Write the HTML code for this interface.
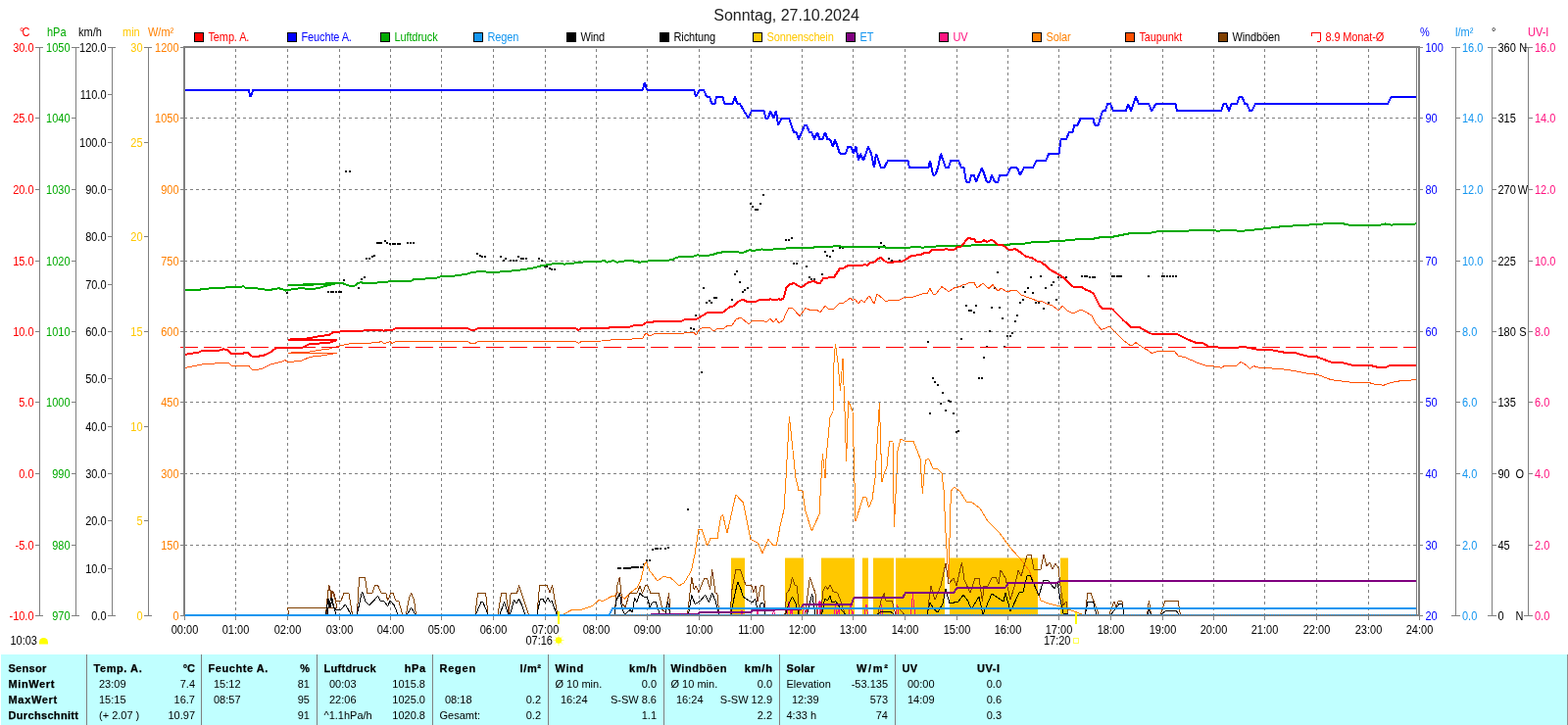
<!DOCTYPE html>
<html lang="de"><head><meta charset="utf-8"><title>Sonntag, 27.10.2024</title>
<style>html,body{margin:0;padding:0;background:#fff;overflow:hidden}svg{display:block;font-family:"Liberation Sans",sans-serif;font-size:11px}.b{font-weight:bold;stroke:#000;stroke-width:.25px}.t{font-size:16px}.g{letter-spacing:-.12px}.l{fill:none;stroke-linejoin:bevel;shape-rendering:crispEdges}</style></head><body>
<svg width="1600" height="740" viewBox="0 0 1600 740">
<rect width="1600" height="740" fill="#fff"/>
<g shape-rendering="crispEdges">
<line x1="188" x2="1445" y1="120.5" y2="120.5" stroke="#808080" stroke-dasharray="3 3"/>
<line x1="188" x2="1445" y1="193.5" y2="193.5" stroke="#808080" stroke-dasharray="3 3"/>
<line x1="188" x2="1445" y1="266.5" y2="266.5" stroke="#808080" stroke-dasharray="3 3"/>
<line x1="188" x2="1445" y1="338.5" y2="338.5" stroke="#808080" stroke-dasharray="3 3"/>
<line x1="188" x2="1445" y1="410.5" y2="410.5" stroke="#808080" stroke-dasharray="3 3"/>
<line x1="188" x2="1445" y1="483.5" y2="483.5" stroke="#808080" stroke-dasharray="3 3"/>
<line x1="188" x2="1445" y1="556.5" y2="556.5" stroke="#808080" stroke-dasharray="3 3"/>
<line x1="240.5" x2="240.5" y1="50" y2="627" stroke="#808080" stroke-dasharray="3 3"/>
<line x1="293.5" x2="293.5" y1="50" y2="627" stroke="#808080" stroke-dasharray="3 3"/>
<line x1="346.5" x2="346.5" y1="50" y2="627" stroke="#808080" stroke-dasharray="3 3"/>
<line x1="398.5" x2="398.5" y1="50" y2="627" stroke="#808080" stroke-dasharray="3 3"/>
<line x1="450.5" x2="450.5" y1="50" y2="627" stroke="#808080" stroke-dasharray="3 3"/>
<line x1="503.5" x2="503.5" y1="50" y2="627" stroke="#808080" stroke-dasharray="3 3"/>
<line x1="556.5" x2="556.5" y1="50" y2="627" stroke="#808080" stroke-dasharray="3 3"/>
<line x1="608.5" x2="608.5" y1="50" y2="627" stroke="#808080" stroke-dasharray="3 3"/>
<line x1="660.5" x2="660.5" y1="50" y2="627" stroke="#808080" stroke-dasharray="3 3"/>
<line x1="713.5" x2="713.5" y1="50" y2="627" stroke="#808080" stroke-dasharray="3 3"/>
<line x1="766.5" x2="766.5" y1="50" y2="627" stroke="#808080" stroke-dasharray="3 3"/>
<line x1="818.5" x2="818.5" y1="50" y2="627" stroke="#808080" stroke-dasharray="3 3"/>
<line x1="870.5" x2="870.5" y1="50" y2="627" stroke="#808080" stroke-dasharray="3 3"/>
<line x1="923.5" x2="923.5" y1="50" y2="627" stroke="#808080" stroke-dasharray="3 3"/>
<line x1="976.5" x2="976.5" y1="50" y2="627" stroke="#808080" stroke-dasharray="3 3"/>
<line x1="1028.5" x2="1028.5" y1="50" y2="627" stroke="#808080" stroke-dasharray="3 3"/>
<line x1="1080.5" x2="1080.5" y1="50" y2="627" stroke="#808080" stroke-dasharray="3 3"/>
<line x1="1133.5" x2="1133.5" y1="50" y2="627" stroke="#808080" stroke-dasharray="3 3"/>
<line x1="1186.5" x2="1186.5" y1="50" y2="627" stroke="#808080" stroke-dasharray="3 3"/>
<line x1="1238.5" x2="1238.5" y1="50" y2="627" stroke="#808080" stroke-dasharray="3 3"/>
<line x1="1290.5" x2="1290.5" y1="50" y2="627" stroke="#808080" stroke-dasharray="3 3"/>
<line x1="1343.5" x2="1343.5" y1="50" y2="627" stroke="#808080" stroke-dasharray="3 3"/>
<line x1="1396.5" x2="1396.5" y1="50" y2="627" stroke="#808080" stroke-dasharray="3 3"/>
</g>
<g fill="#ffc800">
<rect x="746" y="569.5" width="14" height="58.5"/>
<rect x="801" y="569.5" width="19" height="58.5"/>
<rect x="838" y="569.5" width="34" height="58.5"/>
<rect x="880" y="569.5" width="6" height="58.5"/>
<rect x="891" y="569.5" width="21" height="58.5"/>
<rect x="914" y="569.5" width="50" height="58.5"/>
<rect x="969" y="569.5" width="90" height="58.5"/>
<rect x="1082" y="569.5" width="8" height="58.5"/>
</g>
<g shape-rendering="crispEdges" fill="#000">
<rect x="292" y="298" width="2" height="2"/>
<rect x="334" y="297" width="2" height="2"/>
<rect x="337" y="297" width="2" height="2"/>
<rect x="339" y="297" width="2" height="2"/>
<rect x="342" y="297" width="2" height="2"/>
<rect x="345" y="297" width="2" height="2"/>
<rect x="347" y="297" width="2" height="2"/>
<rect x="350" y="285" width="2" height="2"/>
<rect x="365" y="293" width="2" height="2"/>
<rect x="368" y="284" width="2" height="2"/>
<rect x="371" y="282" width="2" height="2"/>
<rect x="373" y="263" width="2" height="2"/>
<rect x="376" y="263" width="2" height="2"/>
<rect x="379" y="261" width="2" height="2"/>
<rect x="381" y="260" width="2" height="2"/>
<rect x="384" y="247" width="2" height="2"/>
<rect x="386" y="247" width="2" height="2"/>
<rect x="388" y="247" width="2" height="2"/>
<rect x="392" y="245" width="2" height="2"/>
<rect x="394" y="247" width="2" height="2"/>
<rect x="397" y="248" width="2" height="2"/>
<rect x="400" y="248" width="2" height="2"/>
<rect x="402" y="248" width="2" height="2"/>
<rect x="405" y="248" width="2" height="2"/>
<rect x="407" y="248" width="2" height="2"/>
<rect x="415" y="247" width="2" height="2"/>
<rect x="418" y="247" width="2" height="2"/>
<rect x="421" y="247" width="2" height="2"/>
<rect x="486" y="258" width="2" height="2"/>
<rect x="489" y="260" width="2" height="2"/>
<rect x="491" y="261" width="2" height="2"/>
<rect x="494" y="261" width="2" height="2"/>
<rect x="352" y="174" width="2" height="2"/>
<rect x="356" y="174" width="2" height="2"/>
<rect x="510" y="261" width="2" height="2"/>
<rect x="513" y="265" width="2" height="2"/>
<rect x="515" y="263" width="2" height="2"/>
<rect x="520" y="265" width="2" height="2"/>
<rect x="523" y="265" width="2" height="2"/>
<rect x="526" y="265" width="2" height="2"/>
<rect x="528" y="261" width="2" height="2"/>
<rect x="531" y="263" width="2" height="2"/>
<rect x="533" y="263" width="2" height="2"/>
<rect x="536" y="263" width="2" height="2"/>
<rect x="549" y="263" width="2" height="2"/>
<rect x="552" y="265" width="2" height="2"/>
<rect x="555" y="271" width="2" height="2"/>
<rect x="557" y="271" width="2" height="2"/>
<rect x="560" y="273" width="2" height="2"/>
<rect x="562" y="274" width="2" height="2"/>
<rect x="565" y="274" width="2" height="2"/>
<rect x="630" y="579" width="2" height="2"/>
<rect x="632" y="579" width="2" height="2"/>
<rect x="636" y="579" width="2" height="2"/>
<rect x="638" y="579" width="2" height="2"/>
<rect x="640" y="579" width="2" height="2"/>
<rect x="642" y="579" width="2" height="2"/>
<rect x="644" y="578" width="2" height="2"/>
<rect x="646" y="578" width="2" height="2"/>
<rect x="648" y="578" width="2" height="2"/>
<rect x="650" y="578" width="2" height="2"/>
<rect x="653" y="578" width="2" height="2"/>
<rect x="655" y="578" width="2" height="2"/>
<rect x="656" y="575" width="2" height="2"/>
<rect x="659" y="571" width="2" height="2"/>
<rect x="662" y="571" width="2" height="2"/>
<rect x="665" y="560" width="2" height="2"/>
<rect x="668" y="559" width="2" height="2"/>
<rect x="670" y="559" width="2" height="2"/>
<rect x="673" y="559" width="2" height="2"/>
<rect x="678" y="559" width="2" height="2"/>
<rect x="681" y="558" width="2" height="2"/>
<rect x="701" y="519" width="2" height="2"/>
<rect x="715" y="379" width="2" height="2"/>
<rect x="704" y="334" width="2" height="2"/>
<rect x="707" y="335" width="2" height="2"/>
<rect x="709" y="321" width="2" height="2"/>
<rect x="717" y="293" width="2" height="2"/>
<rect x="720" y="308" width="2" height="2"/>
<rect x="723" y="306" width="2" height="2"/>
<rect x="725" y="308" width="2" height="2"/>
<rect x="728" y="303" width="2" height="2"/>
<rect x="730" y="303" width="2" height="2"/>
<rect x="746" y="305" width="2" height="2"/>
<rect x="749" y="279" width="2" height="2"/>
<rect x="751" y="276" width="2" height="2"/>
<rect x="754" y="287" width="2" height="2"/>
<rect x="757" y="297" width="2" height="2"/>
<rect x="759" y="295" width="2" height="2"/>
<rect x="762" y="293" width="2" height="2"/>
<rect x="765" y="207" width="2" height="2"/>
<rect x="767" y="210" width="2" height="2"/>
<rect x="770" y="213" width="2" height="2"/>
<rect x="772" y="213" width="2" height="2"/>
<rect x="775" y="207" width="2" height="2"/>
<rect x="778" y="198" width="2" height="2"/>
<rect x="801" y="244" width="2" height="2"/>
<rect x="804" y="244" width="2" height="2"/>
<rect x="807" y="242" width="2" height="2"/>
<rect x="809" y="268" width="2" height="2"/>
<rect x="812" y="268" width="2" height="2"/>
<rect x="822" y="271" width="2" height="2"/>
<rect x="825" y="282" width="2" height="2"/>
<rect x="827" y="284" width="2" height="2"/>
<rect x="830" y="284" width="2" height="2"/>
<rect x="838" y="279" width="2" height="2"/>
<rect x="841" y="256" width="2" height="2"/>
<rect x="843" y="260" width="2" height="2"/>
<rect x="846" y="261" width="2" height="2"/>
<rect x="849" y="255" width="2" height="2"/>
<rect x="854" y="250" width="2" height="2"/>
<rect x="856" y="252" width="2" height="2"/>
<rect x="859" y="252" width="2" height="2"/>
<rect x="896" y="252" width="2" height="2"/>
<rect x="898" y="247" width="2" height="2"/>
<rect x="901" y="250" width="2" height="2"/>
<rect x="906" y="263" width="2" height="2"/>
<rect x="909" y="265" width="2" height="2"/>
<rect x="917" y="265" width="2" height="2"/>
<rect x="946" y="348" width="2" height="2"/>
<rect x="980" y="345" width="2" height="2"/>
<rect x="982" y="292" width="2" height="2"/>
<rect x="985" y="311" width="2" height="2"/>
<rect x="988" y="316" width="2" height="2"/>
<rect x="990" y="316" width="2" height="2"/>
<rect x="993" y="318" width="2" height="2"/>
<rect x="995" y="311" width="2" height="2"/>
<rect x="1003" y="364" width="2" height="2"/>
<rect x="1006" y="353" width="2" height="2"/>
<rect x="1009" y="337" width="2" height="2"/>
<rect x="1011" y="313" width="2" height="2"/>
<rect x="1014" y="293" width="2" height="2"/>
<rect x="1017" y="277" width="2" height="2"/>
<rect x="1019" y="313" width="2" height="2"/>
<rect x="1022" y="324" width="2" height="2"/>
<rect x="1024" y="353" width="2" height="2"/>
<rect x="1027" y="342" width="2" height="2"/>
<rect x="1030" y="342" width="2" height="2"/>
<rect x="1032" y="339" width="2" height="2"/>
<rect x="1035" y="327" width="2" height="2"/>
<rect x="1037" y="321" width="2" height="2"/>
<rect x="1040" y="308" width="2" height="2"/>
<rect x="1043" y="305" width="2" height="2"/>
<rect x="1045" y="297" width="2" height="2"/>
<rect x="1048" y="293" width="2" height="2"/>
<rect x="1051" y="282" width="2" height="2"/>
<rect x="1053" y="298" width="2" height="2"/>
<rect x="1056" y="308" width="2" height="2"/>
<rect x="1059" y="308" width="2" height="2"/>
<rect x="1061" y="281" width="2" height="2"/>
<rect x="1064" y="314" width="2" height="2"/>
<rect x="1066" y="293" width="2" height="2"/>
<rect x="1069" y="308" width="2" height="2"/>
<rect x="1072" y="290" width="2" height="2"/>
<rect x="1074" y="287" width="2" height="2"/>
<rect x="1077" y="305" width="2" height="2"/>
<rect x="1079" y="282" width="2" height="2"/>
<rect x="1082" y="282" width="2" height="2"/>
<rect x="1087" y="282" width="2" height="2"/>
<rect x="1103" y="281" width="2" height="2"/>
<rect x="1106" y="281" width="2" height="2"/>
<rect x="1108" y="281" width="2" height="2"/>
<rect x="1111" y="282" width="2" height="2"/>
<rect x="1114" y="282" width="2" height="2"/>
<rect x="1116" y="282" width="2" height="2"/>
<rect x="951" y="385" width="2" height="2"/>
<rect x="953" y="389" width="2" height="2"/>
<rect x="956" y="392" width="2" height="2"/>
<rect x="961" y="400" width="2" height="2"/>
<rect x="959" y="411" width="2" height="2"/>
<rect x="967" y="408" width="2" height="2"/>
<rect x="969" y="409" width="2" height="2"/>
<rect x="948" y="421" width="2" height="2"/>
<rect x="964" y="418" width="2" height="2"/>
<rect x="972" y="421" width="2" height="2"/>
<rect x="975" y="440" width="2" height="2"/>
<rect x="977" y="439" width="2" height="2"/>
<rect x="998" y="385" width="2" height="2"/>
<rect x="1001" y="385" width="2" height="2"/>
<rect x="1134" y="281" width="2" height="2"/>
<rect x="1136" y="281" width="2" height="2"/>
<rect x="1139" y="281" width="2" height="2"/>
<rect x="1141" y="281" width="2" height="2"/>
<rect x="1143" y="281" width="2" height="2"/>
<rect x="1171" y="281" width="2" height="2"/>
<rect x="1185" y="281" width="2" height="2"/>
<rect x="1187" y="281" width="2" height="2"/>
<rect x="1190" y="281" width="2" height="2"/>
<rect x="1193" y="281" width="2" height="2"/>
<rect x="1196" y="281" width="2" height="2"/>
<rect x="1199" y="281" width="2" height="2"/>
</g>
<polyline class="l" stroke="#ff8000" stroke-width="1" points="575,627 582.5,623 593.8,622 603.8,618.8 611.2,612.5 615,613.5 623.8,608.8 627.5,608.8 629.4,603.8 637.5,611.2 645,603.5 650,600 653.8,592.5 657.5,576.2 659.4,573.5 663,582.7 671,593 677,588.4 684.6,590 693,597.8 698,595 705.4,582.7 709,565.7 713,540 716,540 721.5,557 725,549.6 732,549.6 735.6,527.8 737.5,525 742,544 750.8,505 758.3,512.7 766,550.5 773.5,554.3 778,564.7 784,550.5 788.6,556.2 792.4,556.2 796,537.3 800,520.3 802,488 805.4,425 812,488 815,500.4 819,501.3 821.7,521 828.3,542 836,525 838,488 839.4,463 842,488 843,468 847,426 850,420 851,370 852.4,351 855,370 857.4,399 860,366 862,420 863.6,471 865.6,409 870,420 871.6,476 873,532 881,507 884,508 886.6,518 890,510 893,488 897.4,411 899.4,476 900,492 902,484 905,476 907.6,450 911,451 912.4,538 915,484 916,460 919,448 923,450 932,450 939,468 941.4,504 943,484 944.4,470 947.6,468 952,478 957,479 961,483 963,500 965,544 968,592 969.6,524 970.6,501 973.6,497 980,502 986,512 991,512 1000,519 1008,532 1020,544 1030,558 1040,569 1050,582 1058,602 1062,613 1070,616 1082,619 1090,622 1104,627"/>
<polyline class="l" stroke="#ff5000" stroke-width="1" points="188,375.6 206,372 224,370.6 233,370 237,374 248,373 254,373.6 257,377 262,377.4 268,376 276,372 288,369 291,367.6 293,369 300,369 308,368 316,364.4 328,363 344,360.4 293.6,360.4 300,359.6 316,359 328,357 336,356 344,353.6 358,350.6 368,350.6 386,349.6 389,348.4 392,350.6 396,349.6 398,348.6 400,350.6 404,348.4 477,348.4 480,350.4 485,350.4 488,348.4 587,348.4 590.4,350.4 593.6,348.4 614,348 618,347 620,348 623,347 643,346.6 647,345.6 655.6,345.6 659,340 663,343 667,341 696,340.6 699,339.6 708,339.6 710.4,342 714,336 718,334 720,335 724,334 728,338 733,335 739,335 743,332 747,332 751,326 756,324 764,331 767,328 778,327 782,329 786,325 789,329 792,325.6 795,330 799,327 802,320 805,314 809,315 816,322.6 822,314.6 828,317 834,316.6 837,319 842,312 845,315 850,316 856,310 860,309.6 868,304 870,307 872,305 876,310 879,306 882,308.6 887,302 892,310 895,300 904,307.6 908,306.6 918,306 924,303 930,303.6 942,299.6 946,300 949,294.6 952,300 955,300 961,292.6 968,297.6 974,293.6 980,292.6 983,290 986,290 990,288 994,288.6 997,294 1003,289 1009,294.6 1013,290.6 1015,294 1019,297 1021,294 1028,298 1033,296 1037,296 1042,301 1050,304 1053,305 1058,307 1062,307 1068,310 1074,312 1080.4,317 1084,312 1089,317 1095,320 1103,316 1108,318.6 1114,322 1118,330 1124,336.5 1128,334.9 1132,333 1136,337 1147,347.8 1154,353.2 1159,349.7 1166,354.6 1171,357.3 1175.4,360.8 1181,358.6 1198.4,358.6 1202.4,363.2 1209,364.6 1220,369.5 1231,373.5 1243,374.3 1246.5,375.7 1249.7,373 1262,373 1266,369.5 1270,371.4 1275.4,376.2 1279.5,373.5 1282,374.9 1309,376.8 1322.7,378.9 1336,381.6 1344,382.2 1358,387.6 1379.5,390.3 1395.7,390.3 1404,392.4 1412,393.2 1420,390.3 1431,388.4 1445,387.8"/>
<polyline class="l" stroke="#ff1480" stroke-width="1" points="756,627 757,623 758,627"/>
<polyline class="l" stroke="#ff1480" stroke-width="1" points="772,627 773,624 774,627"/>
<polyline class="l" stroke="#ff1480" stroke-width="1" points="788.5,627 789.5,623.5 791,627"/>
<polyline class="l" stroke="#ff1480" stroke-width="1" points="803.5,627 805,614 806.5,627 808,623 809,627"/>
<polyline class="l" stroke="#ff1480" stroke-width="1" points="819.5,627 820.5,619 821.5,627 823,622 824,627"/>
<polyline class="l" stroke="#ff1480" stroke-width="1" points="834.5,627 835.5,614 836.5,627 837,613.5 838,627"/>
<polyline class="l" stroke="#ff1480" stroke-width="1" points="851,627 852.5,617 854,627 856,622 857,627"/>
<polyline class="l" stroke="#ff1480" stroke-width="1" points="866,627 868,616 869.5,627 870.5,624 871,627"/>
<polyline class="l" stroke="#ff1480" stroke-width="1" points="882,627 884,617 885.5,627"/>
<polyline class="l" stroke="#ff1480" stroke-width="1" points="898.5,627 899.5,617.5 900.5,627"/>
<polyline class="l" stroke="#ff1480" stroke-width="1" points="914,627 915.5,617 917,627"/>
<polyline class="l" stroke="#ff1480" stroke-width="1" points="929.5,627 931.5,606.5 933.5,627"/>
<polyline class="l" stroke="#804000" stroke-width="1" points="295,627 293.4,620.4 343.8,620.4"/>
<polyline class="l" stroke="#804000" stroke-width="1" points="332.5,627 335.6,597.5 337.5,603.8 340,605.6 342.5,613 343.8,620.4"/>
<polyline class="l" stroke="#804000" stroke-width="1" points="333,627 334.5,604 336.5,598 338,612 339,603 341,606 343,614 348,613 351,605.6 356,605.6 359.4,627"/>
<polyline class="l" stroke="#804000" stroke-width="1" points="364.4,627 366.6,589.4 372.5,589.4 374.8,605.4 380,605.4 382.5,597.5 385.6,597.5 388.8,605 393.8,605.4 395.6,613 398.8,605.4 401.2,605.4 403.8,613 406.9,613.8 410.6,627"/>
<polyline class="l" stroke="#804000" stroke-width="1" points="414.4,627 417.5,610 419.6,605.4 422.5,612.5 424.4,627"/>
<polyline class="l" stroke="#804000" stroke-width="1" points="485,627 487.5,605.4 495.6,605.4 498,627"/>
<polyline class="l" stroke="#804000" stroke-width="1" points="508,627 511.6,605.4 516.2,605.4 519,627 521.2,605.4 527.5,605.4 529.6,597.5 533.8,610 539.4,627"/>
<polyline class="l" stroke="#804000" stroke-width="1" points="548,627 550.6,597.2 558,597.2 561.2,605 563.5,597.5 566.2,613 568.8,627"/>
<polyline class="l" stroke="#804000" stroke-width="1" points="627,627 630,597.5 632.2,589.4 633.8,603.8 635,616 638,620 642.5,605.4 650,605.4 653,598 655.6,605.4 658.8,597.2 660.6,597.2 663.8,605.4 672.3,605.4 676,622.4 678.9,625 682.7,605.4 684,627"/>
<polyline class="l" stroke="#804000" stroke-width="1" points="701.6,627 705.8,589.3 708.2,601.6 710,597.8 713,604.4 718.6,590.2 721.5,590.2 724.7,601.6 726.6,581.4 730,605.4 731.9,605.4 733.8,627"/>
<polyline class="l" stroke="#804000" stroke-width="1" points="745,627 747,601.6 750.8,581.7 755.5,581.7 761.2,597.8 766.8,597.8 768.7,604.4 771.2,597.8 773,613.9 776.3,597.8 779,597.8 781,627"/>
<polyline class="l" stroke="#804000" stroke-width="1" points="800.9,627 802.8,605.4 805.6,601.6 808.5,589.3 811.3,597.8 813.2,597.8 816,627"/>
<polyline class="l" stroke="#804000" stroke-width="1" points="821.7,627 826.4,589.3 832,605.4 834,627"/>
<polyline class="l" stroke="#804000" stroke-width="1" points="837.8,627 839.7,603.5 842.5,597.8 844.4,601.6 847.2,597.2 850,603.5 854.8,605.4 857.6,613 862.4,627"/>
<polyline class="l" stroke="#804000" stroke-width="1" points="896,627 899,613 902.5,605 903.5,613 907,613.5 910.5,613.5 912,620 914,627"/>
<polyline class="l" stroke="#804000" stroke-width="1" points="916,619 922.5,627"/>
<polyline class="l" stroke="#804000" stroke-width="1" points="946,627 950,598 954,612 960,598 965,575 968,596 973,590 976,598 981.4,574 984,592 990,605 995,590 999,590 1002.4,614 1004,598 1008,598 1012,590 1016,589 1019,596 1021,582 1026,590 1031,612 1036,596 1039,582 1042,588 1048,567 1052,566.4 1055,581 1062,581 1065,566 1068,578 1071,574 1074,581 1077,575 1080,580 1082,598 1085,618 1088,614 1090,627"/>
<polyline class="l" stroke="#804000" stroke-width="1" points="1107,627 1110,605.4 1113,605.4 1121,627"/>
<polyline class="l" stroke="#804000" stroke-width="1" points="1132,627 1137,613.8 1138.8,620 1141.2,613.5 1145,613.5 1147,627"/>
<polyline class="l" stroke="#804000" stroke-width="1" points="1170.6,627 1172.5,613 1174.4,627"/>
<polyline class="l" stroke="#804000" stroke-width="1" points="1184.4,627 1188.8,613.5 1202,613.5 1204.4,627"/>
<polyline class="l" stroke="#000" stroke-width="1" points="332.5,627 335,611 336.2,616 338,610 340,617.5 341.2,620 342.5,627"/>
<polyline class="l" stroke="#000" stroke-width="1" points="334,627 336,613 337,620 339,611 341,621 343.8,623 347.5,622.5 352.5,617 358,627"/>
<polyline class="l" stroke="#000" stroke-width="1" points="364.4,627 369.4,603.8 373,613.8 377,617.8 385.6,608.5 388.8,614 390.6,613 393,615 395.6,619 398,613 402,617.5 406,627"/>
<polyline class="l" stroke="#000" stroke-width="1" points="415.6,627 419.6,620 423.8,627"/>
<polyline class="l" stroke="#000" stroke-width="1" points="485.6,627 491.2,614 493,615 498,627"/>
<polyline class="l" stroke="#000" stroke-width="1" points="510,627 514.6,614.4 518.8,627"/>
<polyline class="l" stroke="#000" stroke-width="1" points="520.6,627 524.4,612.5 527,616.2 529.4,611.2 532.5,617.5 535.6,627"/>
<polyline class="l" stroke="#000" stroke-width="1" points="548,627 551.2,612 553.8,611.2 556.2,615.6 558.8,610 561.2,614.4 563,613 568,627"/>
<polyline class="l" stroke="#000" stroke-width="1" points="627,627 628.8,613 632.5,605.4 634.4,620 637.5,627 643,622.5 645.6,625 647.5,610 650,614.4 653,605.4 656.2,608.8 660.6,610 663,619.4 666.2,614.4 669.4,614.8 673.2,627"/>
<polyline class="l" stroke="#000" stroke-width="1" points="679,627 681.7,613.9 683.6,627"/>
<polyline class="l" stroke="#000" stroke-width="1" points="702.5,627 705.8,607.3 709.2,616.7 714.8,613 719.6,607.3 723.3,614.8 726.6,605.4 730,613 733.8,627"/>
<polyline class="l" stroke="#000" stroke-width="1" points="746,627 748.9,611 752.7,594 755.5,599.7 758.3,609.2 764,613 767.8,614.8 770.6,611 772.5,620.5 774.4,622.4 776.3,615.8 779,615.8 781,627"/>
<polyline class="l" stroke="#000" stroke-width="1" points="801.8,627 804.7,616.7 808.5,609.2 812.2,616.7 815,627"/>
<polyline class="l" stroke="#000" stroke-width="1" points="823.6,627 828.7,606.3 832,627"/>
<polyline class="l" stroke="#000" stroke-width="1" points="838.7,627 841.6,611 844.4,613 846.9,608.2 849,614.8 852.9,613.9 858.6,622.4 862.4,627"/>
<polyline class="l" stroke="#000" stroke-width="1" points="895,627 900,624 903,625 906,624.5 909,624.5 912,627"/>
<polyline class="l" stroke="#000" stroke-width="1" points="946,627 949,615 953,622 957,625 962,616 965,601 969,616 978,614 983,607 988,614 991,622 999,609 1003,627 1012,606 1024,614 1026,605 1031,624 1040,605 1044,604 1048,588 1051,587 1055,596 1060,608 1065,592 1070,593 1076,601 1079,594 1082,612 1085,626 1090,627"/>
<polyline class="l" stroke="#000" stroke-width="1" points="1107.5,627 1110,614.4 1115.6,614.4 1118.8,627"/>
<polyline class="l" stroke="#000" stroke-width="1" points="1133.8,627 1142.5,616 1145,617 1147,627"/>
<polyline class="l" stroke="#000" stroke-width="1" points="1171,627 1172.5,622.5 1174.4,627"/>
<polyline class="l" stroke="#000" stroke-width="1" points="1185,627 1190,623 1200,623 1202.5,627"/>
<polyline class="l" stroke="#00aa00" stroke-width="2" points="188,296 204,296 206,294.6 213,294.6 215,293.6 230,293.6 232,292.6 247,292.6 248,291.4 250,293.6 262,294 264,295 269,295 271,296 277,296 279,294.6 283,294.6 284,293.6 286,295 288,295 291,296.6 294,296 300,295 308,294 314,295 324,294.4 332,292 344,289 293.6,291.2 310,291 330,290 344,289 348,288.6 352,290 357,292 362,291.6 365,289 369,288 370,289 385,288.6 387,287.6 396,287.6 398,286.6 420,286.6 423,284.6 434,284.6 436,283.6 446,283.6 450,282 464,281.6 467,280.6 475,280.4 481,278 486,277.6 489,276.6 494,276.6 497,278 508,278 512,277 524,276.4 542,274 552,271.4 568,268.6 576,269.6 600,267 614,266.6 616,265.6 619,267.6 623,267.2 625.6,265.6 629,267.6 633,267.4 639,266 644,266 652,267.6 659,267.2 662,266 682,265.6 687,265 690,262.6 708,261.6 712,260 714,261 726,260.4 733,258 740,257 750,256.6 754,257.6 759,257.6 765,255 768,256 778,254.4 780,255 789,254.6 792,253.6 802,253.6 806,252.6 830,252.6 836,251.6 850,251.6 854,250.6 858,251.6 898,251.6 904,252.6 928,252.6 932,252 942,252.6 950,251.6 980,251 990,250.6 1000,249.6 1030,249.6 1036,248.6 1046,248.6 1050,247.6 1062,247 1080,246 1094,245 1100,244 1116,243.6 1124,242 1136,241.6 1152,238.4 1174,237.8 1181,236.2 1201,235.7 1239,235.1 1241.6,235.7 1255,234.9 1266,235.9 1282,234.3 1309,231.1 1336,229.5 1352,228.4 1371,228.4 1379.5,230.3 1406.5,230.3 1413,228.4 1420,229.7 1427,228.6 1431,229.5 1445,228.4"/>
<polyline class="l" stroke="#0000ff" stroke-width="2" points="188,91.5 253.5,91.5 255.5,98.8 258.5,91.5 655.6,91.5 658,84.2 660,91.5 708,91.5 710,98.8 714,91.5 718,91.5 721,98.8 724,98.8 726.4,106 729.4,106 731,98.8 737.4,98.8 739.4,106 747.4,106 750,98.8 752.4,106 755,106 763.4,120.5 767,113.2 779.4,113.2 781.4,120.5 784,120.5 786,113.2 789.4,120.5 792,113.2 794,127.8 798,120.5 805,120.5 810,135 812.4,135 815,142.2 821,127.8 823,127.8 826,135 828,135 831,142.2 834,135 836.4,142.2 839.4,142.2 842,135 844.4,142.2 847,142.2 850,149.5 852,142.2 857,156.8 863,156.8 865.4,149.5 868.4,149.5 871,156.8 873.4,149.5 876,164 878,156.8 881,164 886,149.5 889,156.8 892,171.2 894,156.8 899,171.2 902,171.2 906,164 926.4,164 928,171.2 947.6,171.2 949,164 952,178.5 954.4,178.5 957,171.2 960,156.8 962.4,164 965,171.2 968,171.2 970,164 978,164 981,171.2 983.6,171.2 986,185.8 989.4,185.8 991,178.5 993.6,178.5 996,185.8 1002,171.2 1007,185.8 1010,185.8 1012,178.5 1015,185.8 1018.4,185.8 1020,178.5 1028,178.5 1031,171.2 1038,171.2 1041,178.5 1045,171.2 1054,171.2 1057.4,164 1067,164 1070.4,156.8 1080.6,156.8 1082.6,142.2 1088,142.2 1091,135 1094.4,135 1096.4,127.8 1099.4,127.8 1103,120.5 1115.4,120.5 1117,127.8 1120.6,127.8 1125,113.2 1128,113.2 1130,106 1133,106 1136,113.2 1149,113.2 1151,106 1154,113.2 1159,98.8 1162,106 1172,106 1175.4,113.2 1179.4,106 1199.4,106 1201,113.2 1246,113.2 1248.6,106 1251,106 1254,113.2 1256.6,106 1262.3,106 1264.5,98.8 1267.4,98.8 1270.2,106 1272.4,106 1275.3,113.2 1277.4,113.2 1281,106 1416.1,106 1419.7,98.8 1445,98.8"/>
<polyline class="l" stroke="#ff0000" stroke-width="2" points="188,363 192,361 202,360 207,357.6 224,357.6 228,356.4 232,357 236,361 248,361 250,359.6 253,360 257,363.6 264,363.6 270,362.4 276,359.6 282,355 308,355 316,351 336,350 344,347 293.6,346.6 310,346 322,344 326,343 336,342 340,339 354,338 388,337 392,337.6 396,336.6 399,337.6 404,335 477,335 480,336.6 485,336.6 488,335 587,335 590.4,337 593.6,335 620,335 623,334 643,333.6 647,332 656,331.6 659.6,329 666,328.6 669,328 696,327.6 699,326 711,325.6 722,319 738,318.6 745,313 748,312.6 755,306.6 759,306 762,308 771,308 775,306 785,306 786,305 788,306 793,306 795,305 796,306 799,305 801,300 802,294 805,290.6 810,289 816,292.6 819,292.6 825,288 831,287 834,289 837,289 840,284 851,283 857,274 861,273.6 865,271 881,270.6 882,269.6 885,271 888,268 892,267.6 896,264 899,263 903,266.6 906,268 910,268 913,267 920,267 924,265 930,261 940,260 943,258 948,258 951,255 964,254.6 965,253.6 967,254.6 974,254.6 977,252 981,251.6 987,243.6 990,242.4 991,244.4 994,244 996,247 1002,246.6 1004,245 1007,247 1012,244.6 1018,249.6 1024,250.6 1029,254.6 1032,255 1036,254 1042,258 1047,262 1053,263 1058,266.6 1062,267.6 1067,271 1072,275.6 1080,280 1086,284 1095,292.6 1104,293 1108,296 1112,297 1116,300 1122,312 1125.4,315.4 1135,315.4 1147,327.6 1154,333.8 1162,333.8 1174,340.5 1201,341 1212,346.5 1220,349.7 1228,350.5 1233.5,353.8 1244,354.6 1263,354.6 1268.6,353.8 1282,356.5 1298,357.3 1312,360 1322.7,360.5 1333.5,363.5 1343,364 1358,369.5 1368.6,370 1379.5,372.7 1398.4,373 1408,375.4 1413,375.4 1417,373.5 1445,372.7"/>
<line class="l" x1="184" x2="1445" y1="354.5" y2="354.5" stroke="#ff0000" stroke-dasharray="18 6"/>
<polyline class="l" stroke="#800080" stroke-width="2" points="664,627 712,627 714,625 766,625 768,623 790,623 791,622 817,622 819.5,617 869,617 871,610.4 921,610.4 924,605 973,605 977,599.6 1026,599.6 1029.6,594.6 1079,594.6 1082,593 1445,593"/>
<polyline class="l" stroke="#1496f0" stroke-width="2" points="189,628 621.5,628 625,621 1445,621"/>
<g shape-rendering="crispEdges">
<rect x="187" y="47" width="1262" height="2" fill="#808080"/>
<rect x="187" y="47" width="2" height="582" fill="#808080"/>
<rect x="187" y="627" width="1262" height="2" fill="#808080"/>
<rect x="1445" y="49" width="1" height="578" fill="#808080"/>
<rect x="1446" y="49" width="1" height="578" fill="#fff"/>
<rect x="1447" y="47" width="2" height="582" fill="#808080"/>
<rect x="189" y="627" width="434" height="2" fill="#1496f0"/>
<line x1="624" x2="1445" y1="627.5" y2="627.5" stroke="#1496f0" stroke-dasharray="1 1"/>
<rect x="188" y="629" width="1" height="4" fill="#808080"/>
<rect x="240" y="629" width="1" height="4" fill="#808080"/>
<rect x="293" y="629" width="1" height="4" fill="#808080"/>
<rect x="346" y="629" width="1" height="4" fill="#808080"/>
<rect x="398" y="629" width="1" height="4" fill="#808080"/>
<rect x="450" y="629" width="1" height="4" fill="#808080"/>
<rect x="503" y="629" width="1" height="4" fill="#808080"/>
<rect x="556" y="629" width="1" height="4" fill="#808080"/>
<rect x="608" y="629" width="1" height="4" fill="#808080"/>
<rect x="660" y="629" width="1" height="4" fill="#808080"/>
<rect x="713" y="629" width="1" height="4" fill="#808080"/>
<rect x="766" y="629" width="1" height="4" fill="#808080"/>
<rect x="818" y="629" width="1" height="4" fill="#808080"/>
<rect x="870" y="629" width="1" height="4" fill="#808080"/>
<rect x="923" y="629" width="1" height="4" fill="#808080"/>
<rect x="976" y="629" width="1" height="4" fill="#808080"/>
<rect x="1028" y="629" width="1" height="4" fill="#808080"/>
<rect x="1080" y="629" width="1" height="4" fill="#808080"/>
<rect x="1133" y="629" width="1" height="4" fill="#808080"/>
<rect x="1186" y="629" width="1" height="4" fill="#808080"/>
<rect x="1238" y="629" width="1" height="4" fill="#808080"/>
<rect x="1290" y="629" width="1" height="4" fill="#808080"/>
<rect x="1343" y="629" width="1" height="4" fill="#808080"/>
<rect x="1396" y="629" width="1" height="4" fill="#808080"/>
<rect x="1448" y="629" width="1" height="4" fill="#808080"/>
<rect x="569" y="624" width="2" height="13" fill="#ffff00"/>
<rect x="1097" y="625" width="2" height="12" fill="#ffff00"/>
<rect x="40" y="48" width="1" height="581" fill="#808080"/>
<rect x="36" y="48" width="8" height="1" fill="#808080"/>
<rect x="36" y="628" width="8" height="1" fill="#808080"/>
<rect x="77" y="48" width="1" height="581" fill="#808080"/>
<rect x="73" y="48" width="8" height="1" fill="#808080"/>
<rect x="73" y="628" width="8" height="1" fill="#808080"/>
<rect x="114" y="48" width="1" height="581" fill="#808080"/>
<rect x="110" y="48" width="8" height="1" fill="#808080"/>
<rect x="110" y="628" width="8" height="1" fill="#808080"/>
<rect x="151" y="48" width="1" height="581" fill="#808080"/>
<rect x="147" y="48" width="8" height="1" fill="#808080"/>
<rect x="147" y="628" width="8" height="1" fill="#808080"/>
<rect x="36" y="48" width="4" height="1" fill="#808080"/>
<rect x="36" y="120" width="4" height="1" fill="#808080"/>
<rect x="36" y="193" width="4" height="1" fill="#808080"/>
<rect x="36" y="266" width="4" height="1" fill="#808080"/>
<rect x="36" y="338" width="4" height="1" fill="#808080"/>
<rect x="36" y="410" width="4" height="1" fill="#808080"/>
<rect x="36" y="483" width="4" height="1" fill="#808080"/>
<rect x="36" y="556" width="4" height="1" fill="#808080"/>
<rect x="36" y="628" width="4" height="1" fill="#808080"/>
<rect x="73" y="48" width="4" height="1" fill="#808080"/>
<rect x="73" y="120" width="4" height="1" fill="#808080"/>
<rect x="73" y="193" width="4" height="1" fill="#808080"/>
<rect x="73" y="266" width="4" height="1" fill="#808080"/>
<rect x="73" y="338" width="4" height="1" fill="#808080"/>
<rect x="73" y="410" width="4" height="1" fill="#808080"/>
<rect x="73" y="483" width="4" height="1" fill="#808080"/>
<rect x="73" y="556" width="4" height="1" fill="#808080"/>
<rect x="73" y="628" width="4" height="1" fill="#808080"/>
<rect x="110" y="48" width="4" height="1" fill="#808080"/>
<rect x="110" y="96" width="4" height="1" fill="#808080"/>
<rect x="110" y="145" width="4" height="1" fill="#808080"/>
<rect x="110" y="193" width="4" height="1" fill="#808080"/>
<rect x="110" y="241" width="4" height="1" fill="#808080"/>
<rect x="110" y="290" width="4" height="1" fill="#808080"/>
<rect x="110" y="338" width="4" height="1" fill="#808080"/>
<rect x="110" y="386" width="4" height="1" fill="#808080"/>
<rect x="110" y="435" width="4" height="1" fill="#808080"/>
<rect x="110" y="483" width="4" height="1" fill="#808080"/>
<rect x="110" y="531" width="4" height="1" fill="#808080"/>
<rect x="110" y="580" width="4" height="1" fill="#808080"/>
<rect x="110" y="628" width="4" height="1" fill="#808080"/>
<rect x="147" y="48" width="4" height="1" fill="#808080"/>
<rect x="147" y="145" width="4" height="1" fill="#808080"/>
<rect x="147" y="241" width="4" height="1" fill="#808080"/>
<rect x="147" y="338" width="4" height="1" fill="#808080"/>
<rect x="147" y="435" width="4" height="1" fill="#808080"/>
<rect x="147" y="531" width="4" height="1" fill="#808080"/>
<rect x="147" y="628" width="4" height="1" fill="#808080"/>
<rect x="184" y="48" width="3" height="1" fill="#808080"/>
<rect x="184" y="120" width="3" height="1" fill="#808080"/>
<rect x="184" y="193" width="3" height="1" fill="#808080"/>
<rect x="184" y="266" width="3" height="1" fill="#808080"/>
<rect x="184" y="338" width="3" height="1" fill="#808080"/>
<rect x="184" y="410" width="3" height="1" fill="#808080"/>
<rect x="184" y="483" width="3" height="1" fill="#808080"/>
<rect x="184" y="556" width="3" height="1" fill="#808080"/>
<rect x="184" y="628" width="3" height="1" fill="#808080"/>
<rect x="1449" y="48" width="3" height="1" fill="#808080"/>
<rect x="1449" y="120" width="3" height="1" fill="#808080"/>
<rect x="1449" y="193" width="3" height="1" fill="#808080"/>
<rect x="1449" y="266" width="3" height="1" fill="#808080"/>
<rect x="1449" y="338" width="3" height="1" fill="#808080"/>
<rect x="1449" y="410" width="3" height="1" fill="#808080"/>
<rect x="1449" y="483" width="3" height="1" fill="#808080"/>
<rect x="1449" y="556" width="3" height="1" fill="#808080"/>
<rect x="1449" y="628" width="3" height="1" fill="#808080"/>
<rect x="1485" y="48" width="1" height="581" fill="#808080"/>
<rect x="1481" y="48" width="9" height="1" fill="#808080"/>
<rect x="1481" y="628" width="9" height="1" fill="#808080"/>
<rect x="1486" y="48" width="4" height="1" fill="#808080"/>
<rect x="1486" y="120" width="4" height="1" fill="#808080"/>
<rect x="1486" y="193" width="4" height="1" fill="#808080"/>
<rect x="1486" y="266" width="4" height="1" fill="#808080"/>
<rect x="1486" y="338" width="4" height="1" fill="#808080"/>
<rect x="1486" y="410" width="4" height="1" fill="#808080"/>
<rect x="1486" y="483" width="4" height="1" fill="#808080"/>
<rect x="1486" y="556" width="4" height="1" fill="#808080"/>
<rect x="1486" y="628" width="4" height="1" fill="#808080"/>
<rect x="1522" y="48" width="1" height="581" fill="#808080"/>
<rect x="1518" y="48" width="9" height="1" fill="#808080"/>
<rect x="1518" y="628" width="9" height="1" fill="#808080"/>
<rect x="1523" y="48" width="4" height="1" fill="#808080"/>
<rect x="1523" y="120" width="4" height="1" fill="#808080"/>
<rect x="1523" y="193" width="4" height="1" fill="#808080"/>
<rect x="1523" y="266" width="4" height="1" fill="#808080"/>
<rect x="1523" y="338" width="4" height="1" fill="#808080"/>
<rect x="1523" y="410" width="4" height="1" fill="#808080"/>
<rect x="1523" y="483" width="4" height="1" fill="#808080"/>
<rect x="1523" y="556" width="4" height="1" fill="#808080"/>
<rect x="1523" y="628" width="4" height="1" fill="#808080"/>
<rect x="1559" y="48" width="1" height="581" fill="#808080"/>
<rect x="1555" y="48" width="9" height="1" fill="#808080"/>
<rect x="1555" y="628" width="9" height="1" fill="#808080"/>
<rect x="1560" y="48" width="4" height="1" fill="#808080"/>
<rect x="1560" y="120" width="4" height="1" fill="#808080"/>
<rect x="1560" y="193" width="4" height="1" fill="#808080"/>
<rect x="1560" y="266" width="4" height="1" fill="#808080"/>
<rect x="1560" y="338" width="4" height="1" fill="#808080"/>
<rect x="1560" y="410" width="4" height="1" fill="#808080"/>
<rect x="1560" y="483" width="4" height="1" fill="#808080"/>
<rect x="1560" y="556" width="4" height="1" fill="#808080"/>
<rect x="1560" y="628" width="4" height="1" fill="#808080"/>
</g>
<text transform="matrix(1 0 0 1.125 34.5 53)" fill="#ff0000" text-anchor="end">30.0</text>
<text transform="matrix(1 0 0 1.125 34.5 125)" fill="#ff0000" text-anchor="end">25.0</text>
<text transform="matrix(1 0 0 1.125 34.5 198)" fill="#ff0000" text-anchor="end">20.0</text>
<text transform="matrix(1 0 0 1.125 34.5 271)" fill="#ff0000" text-anchor="end">15.0</text>
<text transform="matrix(1 0 0 1.125 34.5 343)" fill="#ff0000" text-anchor="end">10.0</text>
<text transform="matrix(1 0 0 1.125 34.5 415)" fill="#ff0000" text-anchor="end">5.0</text>
<text transform="matrix(1 0 0 1.125 34.5 488)" fill="#ff0000" text-anchor="end">0.0</text>
<text transform="matrix(1 0 0 1.125 34.5 561)" fill="#ff0000" text-anchor="end">-5.0</text>
<text transform="matrix(1 0 0 1.125 34.5 633)" fill="#ff0000" text-anchor="end">-10.0</text>
<text transform="matrix(1 0 0 1.125 71.5 53)" fill="#00aa00" text-anchor="end">1050</text>
<text transform="matrix(1 0 0 1.125 71.5 125)" fill="#00aa00" text-anchor="end">1040</text>
<text transform="matrix(1 0 0 1.125 71.5 198)" fill="#00aa00" text-anchor="end">1030</text>
<text transform="matrix(1 0 0 1.125 71.5 271)" fill="#00aa00" text-anchor="end">1020</text>
<text transform="matrix(1 0 0 1.125 71.5 343)" fill="#00aa00" text-anchor="end">1010</text>
<text transform="matrix(1 0 0 1.125 71.5 415)" fill="#00aa00" text-anchor="end">1000</text>
<text transform="matrix(1 0 0 1.125 71.5 488)" fill="#00aa00" text-anchor="end">990</text>
<text transform="matrix(1 0 0 1.125 71.5 561)" fill="#00aa00" text-anchor="end">980</text>
<text transform="matrix(1 0 0 1.125 71.5 633)" fill="#00aa00" text-anchor="end">970</text>
<text transform="matrix(1 0 0 1.125 108.5 53)" fill="#000" text-anchor="end">120.0</text>
<text transform="matrix(1 0 0 1.125 108.5 101)" fill="#000" text-anchor="end">110.0</text>
<text transform="matrix(1 0 0 1.125 108.5 150)" fill="#000" text-anchor="end">100.0</text>
<text transform="matrix(1 0 0 1.125 108.5 198)" fill="#000" text-anchor="end">90.0</text>
<text transform="matrix(1 0 0 1.125 108.5 246)" fill="#000" text-anchor="end">80.0</text>
<text transform="matrix(1 0 0 1.125 108.5 295)" fill="#000" text-anchor="end">70.0</text>
<text transform="matrix(1 0 0 1.125 108.5 343)" fill="#000" text-anchor="end">60.0</text>
<text transform="matrix(1 0 0 1.125 108.5 391)" fill="#000" text-anchor="end">50.0</text>
<text transform="matrix(1 0 0 1.125 108.5 440)" fill="#000" text-anchor="end">40.0</text>
<text transform="matrix(1 0 0 1.125 108.5 488)" fill="#000" text-anchor="end">30.0</text>
<text transform="matrix(1 0 0 1.125 108.5 536)" fill="#000" text-anchor="end">20.0</text>
<text transform="matrix(1 0 0 1.125 108.5 585)" fill="#000" text-anchor="end">10.0</text>
<text transform="matrix(1 0 0 1.125 108.5 633)" fill="#000" text-anchor="end">0.0</text>
<text transform="matrix(1 0 0 1.125 145.5 53)" fill="#ffc800" text-anchor="end">30</text>
<text transform="matrix(1 0 0 1.125 145.5 150)" fill="#ffc800" text-anchor="end">25</text>
<text transform="matrix(1 0 0 1.125 145.5 246)" fill="#ffc800" text-anchor="end">20</text>
<text transform="matrix(1 0 0 1.125 145.5 343)" fill="#ffc800" text-anchor="end">15</text>
<text transform="matrix(1 0 0 1.125 145.5 440)" fill="#ffc800" text-anchor="end">10</text>
<text transform="matrix(1 0 0 1.125 145.5 536)" fill="#ffc800" text-anchor="end">5</text>
<text transform="matrix(1 0 0 1.125 145.5 633)" fill="#ffc800" text-anchor="end">0</text>
<text transform="matrix(1 0 0 1.125 182.5 53)" fill="#ff8000" text-anchor="end">1200</text>
<text transform="matrix(1 0 0 1.125 182.5 125)" fill="#ff8000" text-anchor="end">1050</text>
<text transform="matrix(1 0 0 1.125 182.5 198)" fill="#ff8000" text-anchor="end">900</text>
<text transform="matrix(1 0 0 1.125 182.5 271)" fill="#ff8000" text-anchor="end">750</text>
<text transform="matrix(1 0 0 1.125 182.5 343)" fill="#ff8000" text-anchor="end">600</text>
<text transform="matrix(1 0 0 1.125 182.5 415)" fill="#ff8000" text-anchor="end">450</text>
<text transform="matrix(1 0 0 1.125 182.5 488)" fill="#ff8000" text-anchor="end">300</text>
<text transform="matrix(1 0 0 1.125 182.5 561)" fill="#ff8000" text-anchor="end">150</text>
<text transform="matrix(1 0 0 1.125 182.5 633)" fill="#ff8000" text-anchor="end">0</text>
<text transform="matrix(1 0 0 1.125 1454.5 53)" fill="#0000ff">100</text>
<text transform="matrix(1 0 0 1.125 1454.5 125)" fill="#0000ff">90</text>
<text transform="matrix(1 0 0 1.125 1454.5 198)" fill="#0000ff">80</text>
<text transform="matrix(1 0 0 1.125 1454.5 271)" fill="#0000ff">70</text>
<text transform="matrix(1 0 0 1.125 1454.5 343)" fill="#0000ff">60</text>
<text transform="matrix(1 0 0 1.125 1454.5 415)" fill="#0000ff">50</text>
<text transform="matrix(1 0 0 1.125 1454.5 488)" fill="#0000ff">40</text>
<text transform="matrix(1 0 0 1.125 1454.5 561)" fill="#0000ff">30</text>
<text transform="matrix(1 0 0 1.125 1454.5 633)" fill="#0000ff">20</text>
<text transform="matrix(1 0 0 1.125 1492 53)" fill="#1496f0">16.0</text>
<text transform="matrix(1 0 0 1.125 1492 125)" fill="#1496f0">14.0</text>
<text transform="matrix(1 0 0 1.125 1492 198)" fill="#1496f0">12.0</text>
<text transform="matrix(1 0 0 1.125 1492 271)" fill="#1496f0">10.0</text>
<text transform="matrix(1 0 0 1.125 1492 343)" fill="#1496f0">8.0</text>
<text transform="matrix(1 0 0 1.125 1492 415)" fill="#1496f0">6.0</text>
<text transform="matrix(1 0 0 1.125 1492 488)" fill="#1496f0">4.0</text>
<text transform="matrix(1 0 0 1.125 1492 561)" fill="#1496f0">2.0</text>
<text transform="matrix(1 0 0 1.125 1492 633)" fill="#1496f0">0.0</text>
<text transform="matrix(1 0 0 1.125 1566 53)" fill="#ff1480">16.0</text>
<text transform="matrix(1 0 0 1.125 1566 125)" fill="#ff1480">14.0</text>
<text transform="matrix(1 0 0 1.125 1566 198)" fill="#ff1480">12.0</text>
<text transform="matrix(1 0 0 1.125 1566 271)" fill="#ff1480">10.0</text>
<text transform="matrix(1 0 0 1.125 1566 343)" fill="#ff1480">8.0</text>
<text transform="matrix(1 0 0 1.125 1566 415)" fill="#ff1480">6.0</text>
<text transform="matrix(1 0 0 1.125 1566 488)" fill="#ff1480">4.0</text>
<text transform="matrix(1 0 0 1.125 1566 561)" fill="#ff1480">2.0</text>
<text transform="matrix(1 0 0 1.125 1566 633)" fill="#ff1480">0.0</text>
<text transform="matrix(1 0 0 1.125 1528.5 53)" fill="#000">360</text>
<text transform="matrix(1 0 0 1.125 1550.3 53)" fill="#000">N</text>
<text transform="matrix(1 0 0 1.125 1528.5 125)" fill="#000">315</text>
<text transform="matrix(1 0 0 1.125 1528.5 198)" fill="#000">270</text>
<text transform="matrix(1 0 0 1.125 1548.8 198)" fill="#000">W</text>
<text transform="matrix(1 0 0 1.125 1528.5 271)" fill="#000">225</text>
<text transform="matrix(1 0 0 1.125 1528.5 343)" fill="#000">180</text>
<text transform="matrix(1 0 0 1.125 1550.3 343)" fill="#000">S</text>
<text transform="matrix(1 0 0 1.125 1528.5 415)" fill="#000">135</text>
<text transform="matrix(1 0 0 1.125 1528.5 488)" fill="#000">90</text>
<text transform="matrix(1 0 0 1.125 1546.5 488)" fill="#000">O</text>
<text transform="matrix(1 0 0 1.125 1528.5 561)" fill="#000">45</text>
<text transform="matrix(1 0 0 1.125 1528.5 633)" fill="#000">0</text>
<text transform="matrix(1 0 0 1.125 1546.5 633)" fill="#000">N</text>
<text transform="matrix(1 0 0 1.125 20 37)" fill="#ff0000" textLength="10.5">°C</text>
<text transform="matrix(1 0 0 1.125 48 37)" fill="#00aa00">hPa</text>
<text transform="matrix(1 0 0 1.125 80 37)" fill="#000">km/h</text>
<text transform="matrix(1 0 0 1.125 125 37)" fill="#ffc800">min</text>
<text transform="matrix(1 0 0 1.125 151 37)" fill="#ff8000">W/m²</text>
<text transform="matrix(1 0 0 1.125 1449 37)" fill="#0000ff">%</text>
<text transform="matrix(1 0 0 1.125 1485 37)" fill="#1496f0">l/m²</text>
<text transform="matrix(1 0 0 1.125 1522 37)" fill="#000">°</text>
<text transform="matrix(1 0 0 1.125 1559 37)" fill="#ff1480">UV-I</text>
<text transform="matrix(1 0 0 1.125 188.5 647)" fill="#000" text-anchor="middle">00:00</text>
<text transform="matrix(1 0 0 1.125 240.5 647)" fill="#000" text-anchor="middle">01:00</text>
<text transform="matrix(1 0 0 1.125 293.5 647)" fill="#000" text-anchor="middle">02:00</text>
<text transform="matrix(1 0 0 1.125 346.5 647)" fill="#000" text-anchor="middle">03:00</text>
<text transform="matrix(1 0 0 1.125 398.5 647)" fill="#000" text-anchor="middle">04:00</text>
<text transform="matrix(1 0 0 1.125 450.5 647)" fill="#000" text-anchor="middle">05:00</text>
<text transform="matrix(1 0 0 1.125 503.5 647)" fill="#000" text-anchor="middle">06:00</text>
<text transform="matrix(1 0 0 1.125 556.5 647)" fill="#000" text-anchor="middle">07:00</text>
<text transform="matrix(1 0 0 1.125 608.5 647)" fill="#000" text-anchor="middle">08:00</text>
<text transform="matrix(1 0 0 1.125 660.5 647)" fill="#000" text-anchor="middle">09:00</text>
<text transform="matrix(1 0 0 1.125 713.5 647)" fill="#000" text-anchor="middle">10:00</text>
<text transform="matrix(1 0 0 1.125 766.5 647)" fill="#000" text-anchor="middle">11:00</text>
<text transform="matrix(1 0 0 1.125 818.5 647)" fill="#000" text-anchor="middle">12:00</text>
<text transform="matrix(1 0 0 1.125 870.5 647)" fill="#000" text-anchor="middle">13:00</text>
<text transform="matrix(1 0 0 1.125 923.5 647)" fill="#000" text-anchor="middle">14:00</text>
<text transform="matrix(1 0 0 1.125 976.5 647)" fill="#000" text-anchor="middle">15:00</text>
<text transform="matrix(1 0 0 1.125 1028.5 647)" fill="#000" text-anchor="middle">16:00</text>
<text transform="matrix(1 0 0 1.125 1080.5 647)" fill="#000" text-anchor="middle">17:00</text>
<text transform="matrix(1 0 0 1.125 1133.5 647)" fill="#000" text-anchor="middle">18:00</text>
<text transform="matrix(1 0 0 1.125 1186.5 647)" fill="#000" text-anchor="middle">19:00</text>
<text transform="matrix(1 0 0 1.125 1238.5 647)" fill="#000" text-anchor="middle">20:00</text>
<text transform="matrix(1 0 0 1.125 1290.5 647)" fill="#000" text-anchor="middle">21:00</text>
<text transform="matrix(1 0 0 1.125 1343.5 647)" fill="#000" text-anchor="middle">22:00</text>
<text transform="matrix(1 0 0 1.125 1396.5 647)" fill="#000" text-anchor="middle">23:00</text>
<text transform="matrix(1 0 0 1.125 1448.5 647)" fill="#000" text-anchor="middle">24:00</text>
<text transform="matrix(1 0 0 1.125 10.5 658)" fill="#000">10:03</text>
<text transform="matrix(1 0 0 1.125 536.5 658)" fill="#000">07:16</text>
<text transform="matrix(1 0 0 1.125 1065 658)" fill="#000">17:20</text>
<path d="M40 657.5v-2a4.5 4.5 0 0 1 9 0v2z" fill="#ffff00"/>
<g stroke="#ffff80" stroke-width="1"><path d="M570 648v11M564.500 653.500h11M566 649.500l8 8M574 649.500l-8 8" fill="none"/></g>
<circle cx="570" cy="653.500" r="3.200" fill="#ffff00"/>
<rect x="1095.500" y="651.500" width="5" height="5" fill="none" stroke="#ffff50" stroke-width="1"/>
<text x="802.5" y="20.5" fill="#202020" text-anchor="middle" class="t">Sonntag, 27.10.2024</text>
<g shape-rendering="crispEdges">
<rect x="198.5" y="33.5" width="9" height="9" fill="#ff0000" stroke="#000"/>
<rect x="293.5" y="33.5" width="9" height="9" fill="#0000ff" stroke="#000"/>
<rect x="388.5" y="33.5" width="9" height="9" fill="#00aa00" stroke="#000"/>
<rect x="483.5" y="33.5" width="9" height="9" fill="#1496f0" stroke="#000"/>
<rect x="578.5" y="33.5" width="9" height="9" fill="#000" stroke="#000"/>
<rect x="673.5" y="33.5" width="9" height="9" fill="#000" stroke="#000"/>
<rect x="768.5" y="33.5" width="9" height="9" fill="#ffc800" stroke="#000"/>
<rect x="863.5" y="33.5" width="9" height="9" fill="#800080" stroke="#000"/>
<rect x="958.5" y="33.5" width="9" height="9" fill="#ff1480" stroke="#000"/>
<rect x="1053.5" y="33.5" width="9" height="9" fill="#ff8000" stroke="#000"/>
<rect x="1148.5" y="33.5" width="9" height="9" fill="#ff5000" stroke="#000"/>
<rect x="1243.5" y="33.5" width="9" height="9" fill="#804000" stroke="#000"/>
<path d="M1338.5 37v-3.500h9v8.500M1344 42.500h3" fill="none" stroke="#ff0000"/>
</g>
<text transform="matrix(1 0 0 1.125 212.5 42)" fill="#ff0000" class="g">Temp. A.</text>
<text transform="matrix(1 0 0 1.125 307.5 42)" fill="#0000ff" class="g">Feuchte A.</text>
<text transform="matrix(1 0 0 1.125 402.5 42)" fill="#00aa00" class="g">Luftdruck</text>
<text transform="matrix(1 0 0 1.125 497.5 42)" fill="#1496f0" class="g">Regen</text>
<text transform="matrix(1 0 0 1.125 592.5 42)" fill="#000" class="g">Wind</text>
<text transform="matrix(1 0 0 1.125 687.5 42)" fill="#000" class="g">Richtung</text>
<text transform="matrix(1 0 0 1.125 782.5 42)" fill="#ffc800" class="g">Sonnenschein</text>
<text transform="matrix(1 0 0 1.125 877.5 42)" fill="#1496f0" class="g">ET</text>
<text transform="matrix(1 0 0 1.125 972.5 42)" fill="#ff1480" class="g">UV</text>
<text transform="matrix(1 0 0 1.125 1067.5 42)" fill="#ff8000" class="g">Solar</text>
<text transform="matrix(1 0 0 1.125 1162.5 42)" fill="#ff0000" class="g">Taupunkt</text>
<text transform="matrix(1 0 0 1.125 1257.5 42)" fill="#000" class="g">Windböen</text>
<text transform="matrix(1 0 0 1.125 1352.5 42)" fill="#ff0000" class="g">8.9 Monat-Ø</text>
<rect x="1" y="668" width="1598" height="72" fill="#c0ffff" shape-rendering="crispEdges"/>
<g shape-rendering="crispEdges">
<rect x="1599" y="668" width="1" height="72" fill="#909090"/>
<rect x="88" y="668" width="1" height="72" fill="#808080"/>
<rect x="205" y="668" width="1" height="72" fill="#808080"/>
<rect x="323" y="668" width="1" height="72" fill="#808080"/>
<rect x="441" y="668" width="1" height="72" fill="#808080"/>
<rect x="559" y="668" width="1" height="72" fill="#808080"/>
<rect x="677" y="668" width="1" height="72" fill="#808080"/>
<rect x="795" y="668" width="1" height="72" fill="#808080"/>
<rect x="913" y="668" width="1" height="72" fill="#808080"/>
</g>
<text x="8.5" y="686" fill="#000" class="b" textLength="38.7">Sensor</text>
<text x="8.5" y="702" fill="#000" class="b" textLength="46.8">MinWert</text>
<text x="8.5" y="718" fill="#000" class="b" textLength="49.7">MaxWert</text>
<text x="8.5" y="734" fill="#000" class="b" textLength="71.5">Durchschnitt</text>
<text x="95.5" y="686" fill="#000" class="b" textLength="49.2">Temp. A.</text>
<text x="199" y="686" fill="#000" text-anchor="end" class="b" textLength="12.2">°C</text>
<text x="101" y="702" fill="#000">23:09</text>
<text x="199" y="702" fill="#000" text-anchor="end">7.4</text>
<text x="101" y="718" fill="#000">15:15</text>
<text x="199" y="718" fill="#000" text-anchor="end">16.7</text>
<text x="101" y="734" fill="#000">(+ 2.07 )</text>
<text x="199" y="734" fill="#000" text-anchor="end">10.97</text>
<text x="212.5" y="686" fill="#000" class="b" textLength="60.8">Feuchte A.</text>
<text x="316" y="686" fill="#000" text-anchor="end" class="b" textLength="8.9">%</text>
<text x="218" y="702" fill="#000">15:12</text>
<text x="316" y="702" fill="#000" text-anchor="end">81</text>
<text x="218" y="718" fill="#000">08:57</text>
<text x="316" y="718" fill="#000" text-anchor="end">95</text>
<text x="316" y="734" fill="#000" text-anchor="end">91</text>
<text x="330.5" y="686" fill="#000" class="b" textLength="53.2">Luftdruck</text>
<text x="434" y="686" fill="#000" text-anchor="end" class="b" textLength="21.2">hPa</text>
<text x="336" y="702" fill="#000">00:03</text>
<text x="434" y="702" fill="#000" text-anchor="end">1015.8</text>
<text x="336" y="718" fill="#000">22:06</text>
<text x="434" y="718" fill="#000" text-anchor="end">1025.0</text>
<text x="330.5" y="734" fill="#000">^1.1hPa/h</text>
<text x="434" y="734" fill="#000" text-anchor="end">1020.8</text>
<text x="448.5" y="686" fill="#000" class="b" textLength="36.7">Regen</text>
<text x="552" y="686" fill="#000" text-anchor="end" class="b" textLength="21.5">l/m²</text>
<text x="454" y="718" fill="#000">08:18</text>
<text x="552" y="718" fill="#000" text-anchor="end">0.2</text>
<text x="448.5" y="734" fill="#000">Gesamt:</text>
<text x="552" y="734" fill="#000" text-anchor="end">0.2</text>
<text x="566.5" y="686" fill="#000" class="b" textLength="28.7">Wind</text>
<text x="670" y="686" fill="#000" text-anchor="end" class="b" textLength="28">km/h</text>
<text x="566.5" y="702" fill="#000">Ø 10 min.</text>
<text x="670" y="702" fill="#000" text-anchor="end">0.0</text>
<text x="572" y="718" fill="#000">16:24</text>
<text x="670" y="718" fill="#000" text-anchor="end">S-SW 8.6</text>
<text x="670" y="734" fill="#000" text-anchor="end">1.1</text>
<text x="684.5" y="686" fill="#000" class="b" textLength="57">Windböen</text>
<text x="788" y="686" fill="#000" text-anchor="end" class="b" textLength="28.2">km/h</text>
<text x="684.5" y="702" fill="#000">Ø 10 min.</text>
<text x="788" y="702" fill="#000" text-anchor="end">0.0</text>
<text x="690" y="718" fill="#000">16:24</text>
<text x="788" y="718" fill="#000" text-anchor="end">S-SW 12.9</text>
<text x="788" y="734" fill="#000" text-anchor="end">2.2</text>
<text x="802.5" y="686" fill="#000" class="b" textLength="28.7">Solar</text>
<text x="906" y="686" fill="#000" text-anchor="end" class="b" textLength="32">W/m²</text>
<text x="802.5" y="702" fill="#000">Elevation</text>
<text x="906" y="702" fill="#000" text-anchor="end">-53.135</text>
<text x="808" y="718" fill="#000">12:39</text>
<text x="906" y="718" fill="#000" text-anchor="end">573</text>
<text x="802.5" y="734" fill="#000">4:33 h</text>
<text x="906" y="734" fill="#000" text-anchor="end">74</text>
<text x="920.5" y="686" fill="#000" class="b" textLength="15.7">UV</text>
<text x="1020" y="686" fill="#000" text-anchor="end" class="b" textLength="23">UV-I</text>
<text x="926" y="702" fill="#000">00:00</text>
<text x="1022" y="702" fill="#000" text-anchor="end">0.0</text>
<text x="926" y="718" fill="#000">14:09</text>
<text x="1022" y="718" fill="#000" text-anchor="end">0.6</text>
<text x="1022" y="734" fill="#000" text-anchor="end">0.3</text>
</svg></body></html>
